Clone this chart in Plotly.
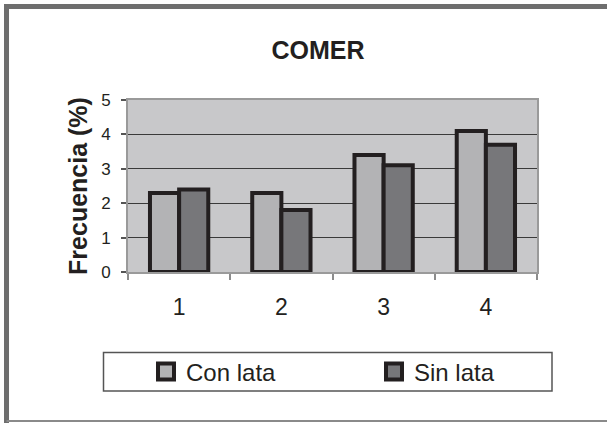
import plotly.graph_objects as go

# Data
categories = ["1", "2", "3", "4"]
con_lata = [2.3, 2.3, 3.4, 4.1]
sin_lata = [2.4, 1.8, 3.1, 3.7]
series_names = ["Con lata", "Sin lata"]
y_ticks = [0, 1, 2, 3, 4, 5]

# Styling
W, H = 607, 423
ML, MR, MT, MB = 128, 70, 100, 151
FONT = "Liberation Sans, Arial, Helvetica, sans-serif"
COL_CON = "#b3b3b5"
COL_SIN = "#77777a"
OUTLINE = "#231f20"
PLOT_BG = "#c8c8ca"
FRAME = "#6e6e6e"

PW = W - ML - MR
PH = H - MT - MB


def px_x(px):
    """Pixel x in the page -> paper x."""
    return (px - ML) / PW


def px_y(py):
    """Pixel y in the page -> paper y."""
    return (H - MB - py) / PH


fig = go.Figure()

for name, vals, col in [(series_names[0], con_lata, COL_CON),
                        (series_names[1], sin_lata, COL_SIN)]:
    fig.add_bar(
        x=categories, y=vals, name=name, showlegend=False,
        marker=dict(color=col, line=dict(color=OUTLINE, width=4)),
    )

# Legend entries with large framed square swatches, one legend per series
for name, col, leg in [(series_names[0], COL_CON, "legend"),
                       (series_names[1], COL_SIN, "legend2")]:
    fig.add_scatter(
        x=[None], y=[None], mode="markers", name=name, legend=leg,
        marker=dict(symbol="square", size=16, color=col,
                    line=dict(color=OUTLINE, width=4)),
    )

shapes = [
    # outer frame
    dict(type="line", xref="paper", yref="paper",
         x0=px_x(6.5), x1=px_x(620), y0=px_y(6.5), y1=px_y(6.5),
         line=dict(color=FRAME, width=5)),
    dict(type="line", xref="paper", yref="paper",
         x0=px_x(6.5), x1=px_x(6.5), y0=px_y(4), y1=px_y(423),
         line=dict(color=FRAME, width=5)),
    dict(type="line", xref="paper", yref="paper",
         x0=px_x(6.5), x1=px_x(620), y0=px_y(421), y1=px_y(421),
         line=dict(color="#8a8a8a", width=2)),
    # legend box
    dict(type="rect", xref="paper", yref="paper",
         x0=px_x(103.5), x1=px_x(552), y0=px_y(352.5), y1=px_y(391),
         line=dict(color="#555555", width=1.5), fillcolor="white"),
]


def legend_at(px):
    return dict(
        orientation="h", xref="container", x=px / W, xanchor="left",
        yref="container", y=1 - 372 / H, yanchor="middle",
        bgcolor="rgba(0,0,0,0)", borderwidth=0,
        font=dict(family=FONT, size=24, color="#231f20"),
        itemsizing="trace",
        itemclick=False, itemdoubleclick=False,
    )


fig.update_layout(
    width=W, height=H,
    margin=dict(l=ML, r=MR, t=MT, b=MB, pad=0),
    paper_bgcolor="white",
    plot_bgcolor=PLOT_BG,
    font=dict(family=FONT, color="#231f20"),
    barmode="group",
    bargap=0.43,
    bargroupgap=0,
    title=dict(text="COMER", x=318 / W, xref="container", xanchor="center",
               y=1 - 50 / H, yref="container", yanchor="middle",
               font=dict(family=FONT, size=25, weight="bold", color="#231f20")),
    shapes=shapes,
    legend=legend_at(146),
    legend2=legend_at(374),
    showlegend=True,
)

fig.update_xaxes(
    type="category", categoryorder="array", categoryarray=categories,
    tickson="boundaries", ticks="outside", ticklen=6, tickwidth=1.5,
    tickcolor="#8c8c8c", showgrid=False,
    showline=True, linecolor="#9a9a9a", linewidth=2, mirror=True,
    tickfont=dict(family=FONT, size=23, color="#231f20"),
    ticklabelstandoff=13,
)

fig.update_yaxes(
    range=[0, 5], tickvals=y_ticks, ticks="outside", ticklen=5,
    tickwidth=1.5, tickcolor="#555555",
    showgrid=True, gridcolor="#3a3a3a", gridwidth=1,
    zeroline=False,
    showline=True, linecolor="#9a9a9a", linewidth=2, mirror=True,
    tickfont=dict(family=FONT, size=17, color="#231f20"),
    ticklabelstandoff=7,
    title=dict(text="Frecuencia (%)", standoff=6,
               font=dict(family=FONT, size=25, weight="bold", color="#231f20")),
)

fig.write_html("out.html")
